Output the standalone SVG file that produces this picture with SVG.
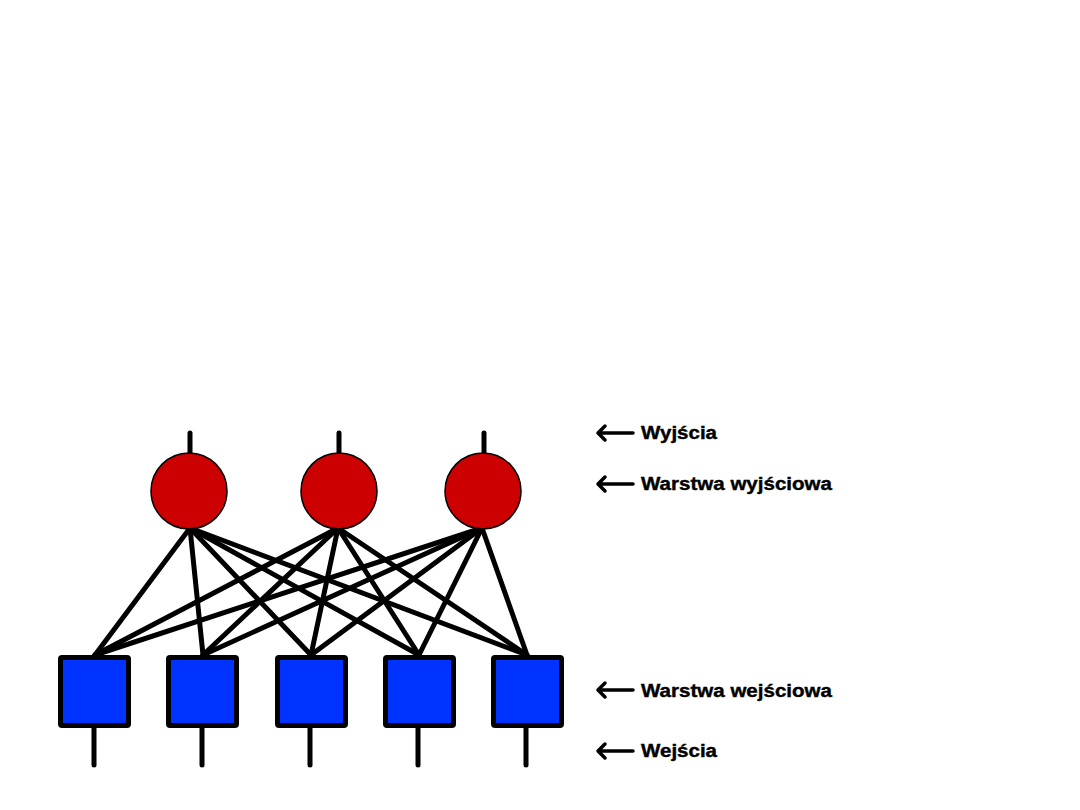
<svg xmlns="http://www.w3.org/2000/svg" width="1080" height="810" viewBox="0 0 1080 810">
<style>
.conn{stroke:#000;stroke-width:5;stroke-linecap:round;fill:none}
.stem{stroke:#000;stroke-width:5;stroke-linecap:round}
.neuron{fill:#cc0000;stroke:#000;stroke-width:1.5}
.inp{fill:#0033ff;stroke:#000;stroke-width:5;stroke-linejoin:round}
.lbl{font-family:"Liberation Sans",Arial,sans-serif;font-weight:bold;font-size:18px;fill:#000;stroke:#000;stroke-width:0.4}
.arr{stroke:#000;stroke-width:3.5;fill:none;stroke-linecap:round;stroke-linejoin:round}
</style>
<rect width="1080" height="810" fill="#fff"/>
<g id="connectors">
<line class="conn" x1="190" y1="528" x2="95" y2="655"/>
<line class="conn" x1="190" y1="528" x2="203" y2="655"/>
<line class="conn" x1="190" y1="528" x2="311" y2="655"/>
<line class="conn" x1="190" y1="528" x2="419" y2="655"/>
<line class="conn" x1="190" y1="528" x2="527" y2="655"/>
<line class="conn" x1="338" y1="528" x2="95" y2="655"/>
<line class="conn" x1="338" y1="528" x2="203" y2="655"/>
<line class="conn" x1="338" y1="528" x2="311" y2="655"/>
<line class="conn" x1="338" y1="528" x2="419" y2="655"/>
<line class="conn" x1="338" y1="528" x2="527" y2="655"/>
<line class="conn" x1="482" y1="528" x2="95" y2="655"/>
<line class="conn" x1="482" y1="528" x2="203" y2="655"/>
<line class="conn" x1="482" y1="528" x2="311" y2="655"/>
<line class="conn" x1="482" y1="528" x2="419" y2="655"/>
<line class="conn" x1="482" y1="528" x2="527" y2="655"/>
<line class="stem" x1="190" y1="433" x2="190" y2="453"/>
<line class="stem" x1="339" y1="433" x2="339" y2="453"/>
<line class="stem" x1="484" y1="433" x2="484" y2="453"/>
<line class="stem" x1="94" y1="727" x2="94" y2="765"/>
<line class="stem" x1="202" y1="727" x2="202" y2="765"/>
<line class="stem" x1="310" y1="727" x2="310" y2="765"/>
<line class="stem" x1="418" y1="727" x2="418" y2="765"/>
<line class="stem" x1="526" y1="727" x2="526" y2="765"/>
</g>
<g id="out1"><circle class="neuron" cx="189" cy="491" r="38"/></g>
<g id="out2"><circle class="neuron" cx="339" cy="491" r="38"/></g>
<g id="out3"><circle class="neuron" cx="483" cy="491" r="38"/></g>
<g id="in1"><rect class="inp" x="60.5" y="657.5" width="68" height="68" rx="1.5"/></g>
<g id="in2"><rect class="inp" x="168.5" y="657.5" width="68" height="68" rx="1.5"/></g>
<g id="in3"><rect class="inp" x="277.5" y="657.5" width="68" height="68" rx="1.5"/></g>
<g id="in4"><rect class="inp" x="385.5" y="657.5" width="68" height="68" rx="1.5"/></g>
<g id="in5"><rect class="inp" x="493.5" y="657.5" width="68" height="68" rx="1.5"/></g>
<g id="label-wyjscia">
<path class="arr" d="M633 433H598M605 426L598 433L605 440"/>
<text class="lbl" x="641" y="439" textLength="76" lengthAdjust="spacingAndGlyphs">Wyjścia</text>
</g>
<g id="label-warstwa-wyjsciowa">
<path class="arr" d="M633 484H598M605 477L598 484L605 491"/>
<text class="lbl" x="641" y="490" textLength="191" lengthAdjust="spacingAndGlyphs">Warstwa wyjściowa</text>
</g>
<g id="label-warstwa-wejsciowa">
<path class="arr" d="M633 690H598M605 683L598 690L605 697"/>
<text class="lbl" x="641" y="697" textLength="191" lengthAdjust="spacingAndGlyphs">Warstwa wejściowa</text>
</g>
<g id="label-wejscia">
<path class="arr" d="M633 751H598M605 744L598 751L605 758"/>
<text class="lbl" x="641" y="757" textLength="76" lengthAdjust="spacingAndGlyphs">Wejścia</text>
</g>
</svg>
